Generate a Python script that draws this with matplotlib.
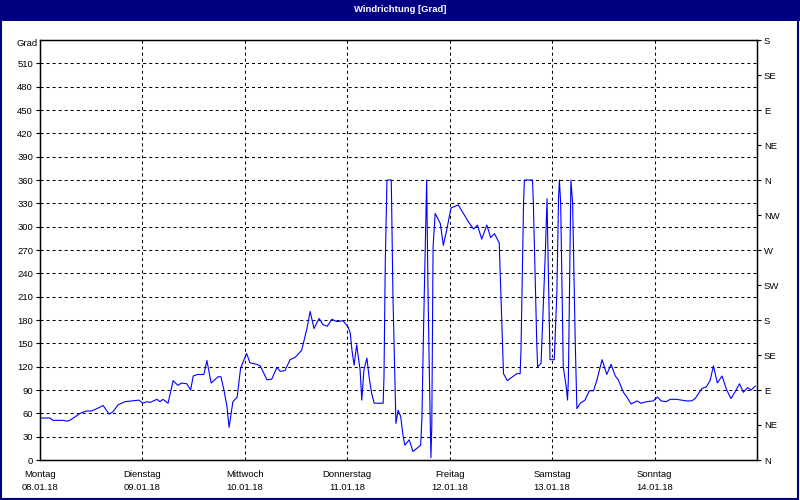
import numpy as np
import matplotlib
matplotlib.use('Agg')
import matplotlib.pyplot as plt
from matplotlib.patches import Rectangle

### data: hours since Monday 08.01.18 00:00, wind direction in degrees
hours = [0.2, 2.3, 3.0, 5.4, 6.3, 7.0, 9.4, 10.9, 12.1, 13.3, 14.8, 16.2, 17.1, 18.3, 19.9,
         21.6, 23.2, 24.1, 25.1, 25.8, 27.4, 28.1, 28.8, 30.0, 31.2, 32.3, 33.2, 34.4, 35.3,
         35.9, 37.0, 38.4, 39.1, 40.1, 41.7, 42.4, 43.1, 43.8, 44.3, 45.2, 46.2, 47.0, 48.4,
         49.2, 50.8, 51.6, 53.2, 54.3, 55.5, 56.3, 57.4, 58.6, 59.8, 61.3, 62.5, 63.3, 64.2,
         65.4, 66.3, 67.3, 68.4, 69.5, 71.0, 72.2, 72.7, 73.1, 73.6, 74.2, 75.0, 75.4, 75.9,
         76.6, 77.1, 77.7, 78.3, 80.4, 80.6, 80.9, 81.3, 82.3, 82.4, 82.7, 83.4, 83.9, 84.5,
         85.1, 85.5, 86.5, 87.4, 89.2, 89.5, 89.8, 90.6, 90.9, 91.2, 91.6, 91.8, 92.1, 92.6,
         93.8, 94.5, 95.3, 96.3, 98.0, 100.4, 101.6, 102.5, 103.5, 104.7, 105.6, 106.5, 107.6,
         108.2, 108.6, 109.5, 111.7, 112.5, 112.7, 113.3, 113.5, 115.4, 115.6, 116.4, 116.6,
         117.4, 118.4, 118.8, 119.0, 119.5, 120.5, 121.1, 121.5, 121.7, 122.0, 122.6, 123.3,
         123.6, 123.8, 124.4, 124.8, 125.4, 125.8, 126.6, 127.7, 128.7, 129.7, 130.5, 131.7,
         132.8, 133.8, 134.8, 135.5, 136.7, 137.5, 138.5, 139.9, 140.8, 142.2, 143.7, 144.7,
         145.5, 146.7, 147.7, 149.2, 151.4, 152.7, 153.5, 155.1, 156.1, 157.0, 157.8, 158.7,
         159.8, 160.9, 161.9, 162.9, 163.9, 164.8, 165.8, 166.6, 167.6]
grad = [54, 54, 51, 51, 50, 51, 60, 63, 63, 66, 70, 59, 62, 71, 75,
        76, 77, 73, 75, 74, 78, 75, 78, 73, 102, 96, 99, 98, 90,
        108, 110, 110, 128, 99, 107, 107, 90, 69, 42, 75, 81, 118, 137,
        125, 123, 121, 103, 104, 119, 114, 115, 129, 132, 141, 168, 191, 169,
        182, 174, 172, 181, 178, 179, 171, 163, 141, 122, 148, 116, 77, 116,
        131, 107, 86, 73, 73, 107, 253, 360, 360, 326, 210, 47, 64, 56,
        30, 19, 26, 11, 19, 56, 150, 360, 223, 120, 3, 43, 274, 317,
        304, 276, 296, 324, 328, 306, 297, 302, 284, 302, 286, 291, 279,
        176, 111, 102, 111, 111, 141, 330, 360, 360, 330, 150, 120,
        124, 266, 336, 274, 129, 129, 214, 336, 360, 330, 120, 94,
        77, 103, 360, 330, 154, 66, 73, 77, 89, 89, 103, 129,
        110, 123, 108, 103, 87, 81, 72, 76, 73, 75, 76, 81,
        76, 75, 78, 78, 76, 76, 79, 92, 94, 102, 121, 99,
        108, 90, 79, 88, 98, 87, 93, 90, 95]

day_names = ['Montag', 'Dienstag', 'Mittwoch', 'Donnerstag', 'Freitag', 'Samstag', 'Sonntag']
day_dates = ['08.01.18', '09.01.18', '10.01.18', '11.01.18', '12.01.18', '13.01.18', '14.01.18']
compass = ['N', 'NE', 'E', 'SE', 'S', 'SW', 'W', 'NW', 'N', 'NE', 'E', 'SE', 'S']

plt.rcParams['font.family'] = ['Liberation Sans', 'DejaVu Sans']
fs = 6.8

fig = plt.figure(figsize=(8, 5), dpi=100, facecolor='white')
ax = fig.add_axes([40/800, 40/500, 717/800, 420/500])

# title bar + border
fig.patches.append(Rectangle((0, 479/500), 1, 21/500, transform=fig.transFigure,
                             facecolor='#000080', edgecolor='none', zorder=0))
fig.patches.append(Rectangle((0.001, 0.002), 0.997, 0.996, transform=fig.transFigure,
                             facecolor='none', edgecolor='#000080', linewidth=1.5, zorder=1))
fig.text(0.5, 490/500, 'Windrichtung [Grad]', color='white', fontsize=fs, fontweight='bold',
         ha='center', va='center')

ax.plot(hours, grad, color='#0000ff', linewidth=0.8, zorder=3)

ax.set_xlim(0, 168)
ax.set_ylim(0, 540)
ax.set_yticks(np.arange(0, 511, 30))
ax.set_xticks(np.arange(0, 168, 24))
ax.set_xticklabels([n + '\n' + d for n, d in zip(day_names, day_dates)], linespacing=1.65)
ax.tick_params(axis='x', length=0, pad=7, labelsize=fs)
ax.tick_params(axis='y', length=3, width=0.8, pad=2, labelsize=fs)
ax.grid(True, color='black', linestyle=(0, (2.9, 2.9)), linewidth=0.75)
for s in ax.spines.values():
    s.set_linewidth(1.0)

ax2 = ax.twinx()
ax2.set_ylim(0, 540)
ax2.set_yticks(np.arange(0, 541, 45))
ax2.set_yticklabels(compass)
ax2.tick_params(axis='y', length=3, width=0.8, pad=2, labelsize=fs)

fig.text(38/800, 456/500, 'Grad', fontsize=fs, ha='right', va='center')

plt.savefig('out.png', dpi=100, facecolor=fig.get_facecolor())
